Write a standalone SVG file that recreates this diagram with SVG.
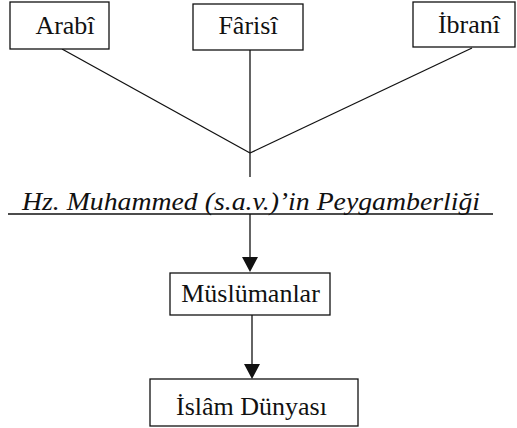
<svg xmlns="http://www.w3.org/2000/svg" width="517" height="428" viewBox="0 0 517 428">
<style>
.box{fill:#fff;stroke:#111;stroke-width:1.3}
.lbl{font-family:"Liberation Serif","Times New Roman",serif;font-size:26px;fill:#111;text-anchor:middle}
.ital{font-family:"Liberation Serif","Times New Roman",serif;font-size:25px;font-style:italic;fill:#111}
.ln{stroke:#111;stroke-width:1.3;fill:none}
.head{fill:#111}
</style>
<rect width="517" height="428" fill="#fff"/>
<g id="connectors">
<line class="ln" x1="62" y1="49" x2="250" y2="153"/>
<line class="ln" x1="250" y1="50" x2="250" y2="153"/>
<line class="ln" x1="472" y1="48" x2="250" y2="153"/>
<line class="ln" x1="250" y1="153" x2="250" y2="177"/>
<line class="ln" x1="250" y1="214" x2="250" y2="257"/>
<path class="head" d="M242,257 L258,257 L250,272 Z"/>
<line class="ln" x1="252" y1="315" x2="252" y2="365"/>
<path class="head" d="M244,364 L260,364 L252,379 Z"/>
</g>
<g id="arabi">
<rect class="box" x="10" y="2" width="99" height="47"/>
<text class="lbl" x="65" y="34">Arabî</text>
</g>
<g id="farisi">
<rect class="box" x="193" y="4" width="110" height="46"/>
<text class="lbl" x="248" y="34">Fârisî</text>
</g>
<g id="ibrani">
<rect class="box" x="413" y="2" width="102" height="45"/>
<text class="lbl" x="469" y="33">İbranî</text>
</g>
<g id="peygamberlik">
<text class="ital" x="22" y="210" textLength="458" lengthAdjust="spacingAndGlyphs">Hz. Muhammed (s.a.v.)’in Peygamberliği</text>
<line class="ln" x1="8" y1="214" x2="493" y2="214"/>
</g>
<g id="muslumanlar">
<rect class="box" x="170" y="273" width="160" height="42"/>
<text class="lbl" x="250.5" y="302">Müslümanlar</text>
</g>
<g id="islam">
<rect class="box" x="150" y="379" width="208" height="47"/>
<text class="lbl" x="251.5" y="415">İslâm Dünyası</text>
</g>
</svg>
